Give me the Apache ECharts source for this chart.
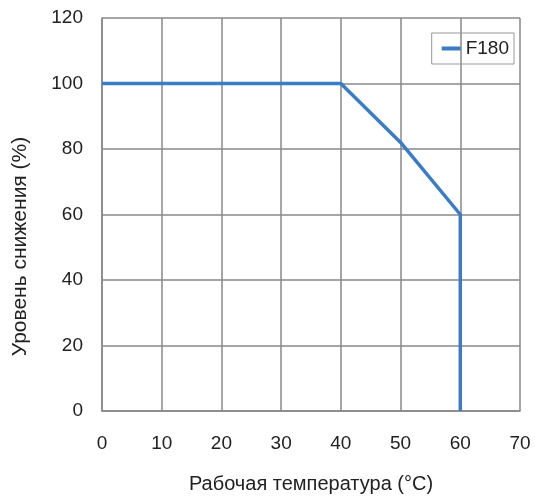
<!DOCTYPE html>
<html><head><meta charset="utf-8">
<script src="https://cdn.jsdelivr.net/npm/echarts@6/dist/echarts.min.js"></script>
<style>html,body{margin:0;padding:0;background:#fff}#c{width:535px;height:499px}</style>
</head><body><div id="c"></div>
<script>
const seriesName = 'F180';
const temps = [0, 40, 50, 60, 60];
const levels = [100, 100, 82, 60, 0];
const xTicks = [0, 10, 20, 30, 40, 50, 60, 70];
const yTicks = [0, 20, 40, 60, 80, 100, 120];

const chart = echarts.init(document.getElementById('c'));
const font = 'Liberation Sans, Arial, sans-serif';
chart.setOption({
  animation: false,
  grid: { left: 102, width: 418, top: 18, height: 396 },
  legend: {
    right: 21, top: 33, data: [seriesName],
    itemWidth: 19, itemHeight: 4, itemGap: 9,
    icon: 'rect',
    borderColor: '#999', borderWidth: 1, borderRadius: 0,
    padding: [6, 5, 6, 10],
    textStyle: { fontFamily: font, fontSize: 19, color: '#222' }
  },
  xAxis: {
    type: 'value', min: xTicks[0], max: xTicks[xTicks.length - 1], interval: 10,
    name: 'Рабочая температура (°C)', nameLocation: 'middle', nameGap: 63,
    nameTextStyle: { fontFamily: font, fontSize: 20, color: '#222' },
    axisLine: { show: true, lineStyle: { color: '#888', width: 1.5 } },
    axisTick: { show: false },
    axisLabel: { fontFamily: font, fontSize: 19, color: '#222', margin: 23 },
    splitLine: { show: true, lineStyle: { color: '#888', width: 1.5 } }
  },
  yAxis: {
    type: 'value', min: yTicks[0], max: yTicks[yTicks.length - 1], interval: 20,
    name: 'Уровень снижения (%)', nameLocation: 'middle', nameGap: 71, nameRotate: 90,
    nameTextStyle: { fontFamily: font, fontSize: 21, color: '#222', padding: [0, 64, 0, 0] },
    axisLine: { show: true, lineStyle: { color: '#888', width: 1.5 } },
    axisTick: { show: false },
    axisLabel: { fontFamily: font, fontSize: 19, color: '#222', margin: 19 },
    splitLine: { show: true, lineStyle: { color: '#888', width: 1.5 } }
  },
  series: [{
    name: seriesName, type: 'line',
    data: temps.map((t, i) => [t, levels[i]]),
    showSymbol: false, symbol: 'none',
    lineStyle: { color: '#3a7cc6', width: 3.5 },
    itemStyle: { color: '#3a7cc6' }
  }]
});
</script></body></html>
